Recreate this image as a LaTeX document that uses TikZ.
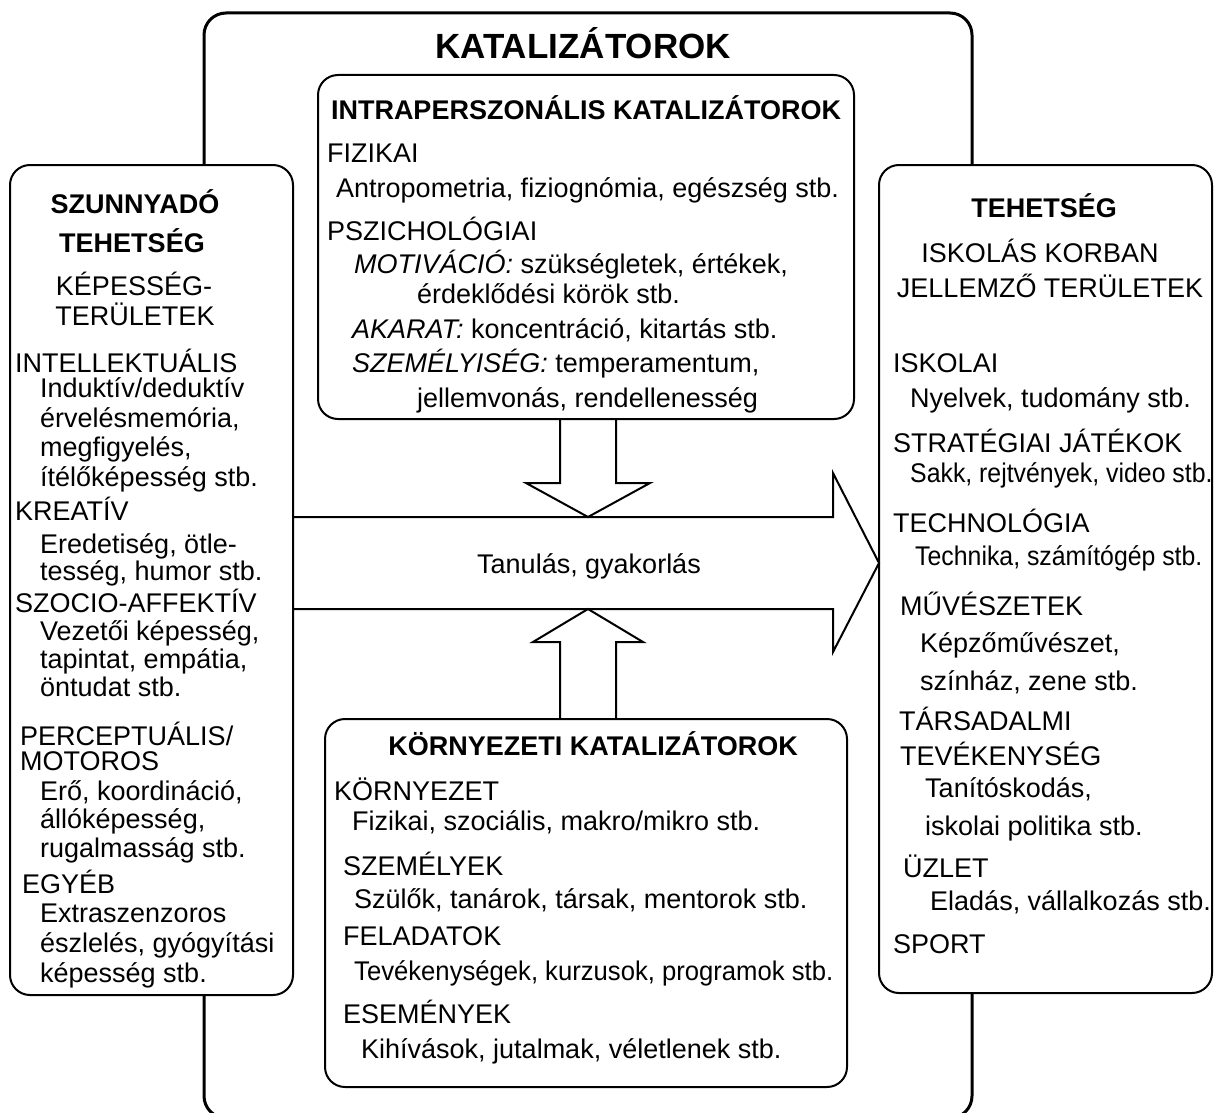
\documentclass[tikz,border=0pt]{standalone}
\usepackage{fontspec}
\setmainfont{Liberation Sans}
\newfontfamily\narrowf[FakeStretch=0.92]{Liberation Sans}
\newfontfamily\narrowg[FakeStretch=0.95]{Liberation Sans}
\usetikzlibrary{calc}
\begin{document}
\begin{tikzpicture}[x=1pt,y=-1pt,
  box/.style={draw, line width=2pt, rounded corners=20pt, fill=white, inner sep=0pt, outer sep=0pt},
  outerbox/.style={draw, line width=3pt, rounded corners=22pt, inner sep=0pt, outer sep=0pt},
  blockarrow/.style={draw, line width=2pt, line join=miter},
  tx/.style={anchor=base west, inner sep=0pt, font=\fontsize{27}{30}\selectfont},
  tc/.style={anchor=base, inner sep=0pt, font=\fontsize{27}{30}\selectfont},
  tb/.style={anchor=base, inner sep=0pt, font=\fontsize{27}{30}\selectfont\bfseries},
]
\useasboundingbox (0,0) rectangle (1215,1113);
\fill[white] (0,0) rectangle (1215,1113);

% outer catalyst frame
\node[outerbox, minimum width=768pt, minimum height=1105pt] (outer) at (588,565.5) {};
\node[anchor=base, inner sep=0pt, font=\fontsize{35}{40}\selectfont\bfseries] (kat) at (583,59) {KATALIZÁTOROK};

% boxes
\node[box, minimum width=283pt, minimum height=830pt] (lat) at (151.5,580) {};
\node[box, minimum width=333pt, minimum height=828pt] (tal) at (1045.5,579) {};
\node[box, minimum width=536pt, minimum height=344pt] (intra) at (586,247) {};
\node[box, minimum width=522pt, minimum height=368pt] (env) at (586,903) {};

% big arrow
\draw[blockarrow] (lat.east |- 0,517) -- (833,517) -- (833,473) -- (tal.west |- 0,563) -- (833,652) -- (833,609) -- (lat.east |- 0,609);
% down arrow
\draw[blockarrow] (intra.south -| 560,0) -- (560,483) -- (526,483) -- (588,517) -- (650,483) -- (616,483) -- (intra.south -| 616,0);
% up arrow
\draw[blockarrow] (env.north -| 560,0) -- (560,642) -- (533,642) -- (588,609) -- (643,642) -- (616,642) -- (env.north -| 616,0);

\node[tc] (learn) at (589,573) {Tanulás, gyakorlás};

% left box text
\node[tb] (l1) at (135,213) {SZUNNYADÓ};
\node[tb] (l2) at (132,252) {TEHETSÉG};
\node[tc] (l3) at (134,295) {KÉPESSÉG-};
\node[tc] (l4) at (135,325) {TERÜLETEK};
\node[tx] (l5) at (15,372) {INTELLEKTUÁLIS};
\node[tx] (l6) at (40,397) {Induktív/deduktív};
\node[tx] (l7) at (40,427) {érvelésmemória,};
\node[tx] (l8) at (40,456) {megfigyelés,};
\node[tx] (l9) at (40,486) {ítélőképesség stb.};
\node[tx] (l10) at (15,520) {KREATÍV};
\node[tx] (l11) at (40,553) {Eredetiség, ötle-};
\node[tx] (l12) at (40,580) {tesség, humor stb.};
\node[tx] (l13) at (15,612) {SZOCIO-AFFEKTÍV};
\node[tx] (l14) at (40,640) {Vezetői képesség,};
\node[tx] (l15) at (40,668) {tapintat, empátia,};
\node[tx] (l16) at (40,696) {öntudat stb.};
\node[tx] (l17) at (20,745) {PERCEPTUÁLIS/};
\node[tx] (l18) at (20,770) {MOTOROS};
\node[tx] (l19) at (40,800) {Erő, koordináció,};
\node[tx] (l20) at (40,828) {állóképesség,};
\node[tx] (l21) at (40,857) {rugalmasság stb.};
\node[tx] (l22) at (22,893) {EGYÉB};
\node[tx] (l23) at (40,922) {Extraszenzoros};
\node[tx] (l24) at (40,952) {észlelés, gyógyítási};
\node[tx] (l25) at (40,982) {képesség stb.};

% right box text
\node[tb] (r1) at (1044,217) {TEHETSÉG};
\node[tc] (r2) at (1040,262) {ISKOLÁS KORBAN};
\node[tc] (r3) at (1050,297) {JELLEMZŐ TERÜLETEK};
\node[tx] (r4) at (893,372) {ISKOLAI};
\node[tx] (r5) at (910,407) {Nyelvek, tudomány stb.};
\node[tx] (r6) at (893,452) {STRATÉGIAI JÁTÉKOK};
\node[tx, font=\fontsize{27}{30}\narrowf] (r7) at (910,482) {Sakk, rejtvények, video stb.};
\node[tx] (r8) at (893,532) {TECHNOLÓGIA};
\node[tx, font=\fontsize{27}{30}\narrowf] (r9) at (915,565) {Technika, számítógép stb.};
\node[tx] (r10) at (900,615) {MŰVÉSZETEK};
\node[tx] (r11) at (920,652) {Képzőművészet,};
\node[tx] (r12) at (920,690) {színház, zene stb.};
\node[tx] (r13) at (899,730) {TÁRSADALMI};
\node[tx] (r14) at (900,765) {TEVÉKENYSÉG};
\node[tx] (r15) at (925,797) {Tanítóskodás,};
\node[tx] (r16) at (925,835) {iskolai politika stb.};
\node[tx] (r17) at (903,877) {ÜZLET};
\node[tx] (r18) at (930,910) {Eladás, vállalkozás stb.};
\node[tx] (r19) at (893,953) {SPORT};

% intrapersonal text
\node[tb] (i1) at (586,120) {INTRAPERSZONÁLIS KATALIZÁTOROK};
\node[tx] (i2) at (327,162) {FIZIKAI};
\node[tx] (i3) at (336,197) {Antropometria, fiziognómia, egészség stb.};
\node[tx] (i4) at (327,240) {PSZICHOLÓGIAI};
\node[tx] (i5) at (354,273) {\itshape MOTIVÁCIÓ:\upshape\ szükségletek, értékek,};
\node[tx] (i6) at (417,303) {érdeklődési körök stb.};
\node[tx] (i7) at (352,338) {\itshape AKARAT:\upshape\ koncentráció, kitartás stb.};
\node[tx] (i8) at (352,372) {\itshape SZEMÉLYISÉG:\upshape\ temperamentum,};
\node[tx] (i9) at (417,407) {jellemvonás, rendellenesség};

% environmental text
\node[tb] (e1) at (593,755) {KÖRNYEZETI KATALIZÁTOROK};
\node[tx] (e2) at (334,800) {KÖRNYEZET};
\node[tx] (e3) at (352,830) {Fizikai, szociális, makro/mikro stb.};
\node[tx] (e4) at (343,875) {SZEMÉLYEK};
\node[tx] (e5) at (354,908) {Szülők, tanárok, társak, mentorok stb.};
\node[tx] (e6) at (343,945) {FELADATOK};
\node[tx, font=\fontsize{27}{30}\narrowg] (e7) at (354,980) {Tevékenységek, kurzusok, programok stb.};
\node[tx] (e8) at (343,1023) {ESEMÉNYEK};
\node[tx] (e9) at (361,1058) {Kihívások, jutalmak, véletlenek stb.};
\end{tikzpicture}
\end{document}
